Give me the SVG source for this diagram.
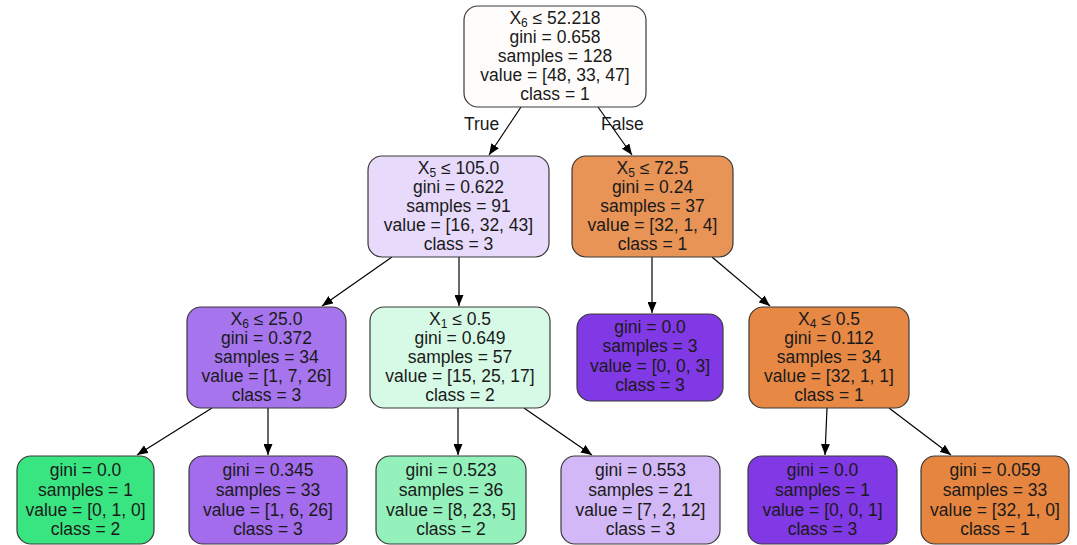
<svg xmlns="http://www.w3.org/2000/svg" width="1077" height="545" viewBox="0 0 1077 545">
<defs>
<style>
.box{stroke:#3a3a3a;stroke-width:1.2}
text{font-family:"Liberation Sans",Arial,sans-serif;font-size:17.5px;fill:#1a1a1a;text-anchor:middle}
.sub{font-size:12px}
.edge{stroke:#000;stroke-width:1.2;fill:none}
.lbl{text-anchor:start}
</style>
<marker id="arr" markerWidth="11" markerHeight="9" refX="11" refY="4.5" orient="auto" markerUnits="userSpaceOnUse">
<path d="M0,0 L11,4.5 L0,9 Z" fill="#000"/>
</marker>
</defs>
<rect width="1077" height="545" fill="#fff"/>
<g id="connectors">
<line class="edge" x1="521" y1="107" x2="489" y2="155" marker-end="url(#arr)"/>
<line class="edge" x1="598" y1="107" x2="632" y2="155" marker-end="url(#arr)"/>
<line class="edge" x1="392" y1="257" x2="322" y2="306" marker-end="url(#arr)"/>
<line class="edge" x1="459" y1="257" x2="459" y2="306" marker-end="url(#arr)"/>
<line class="edge" x1="652" y1="257" x2="652" y2="313" marker-end="url(#arr)"/>
<line class="edge" x1="712" y1="257" x2="770" y2="306" marker-end="url(#arr)"/>
<line class="edge" x1="212" y1="408" x2="137" y2="455" marker-end="url(#arr)"/>
<line class="edge" x1="268" y1="408" x2="268" y2="455" marker-end="url(#arr)"/>
<line class="edge" x1="458" y1="408" x2="458" y2="455" marker-end="url(#arr)"/>
<line class="edge" x1="524" y1="408" x2="592" y2="455" marker-end="url(#arr)"/>
<line class="edge" x1="827" y1="408" x2="825" y2="455" marker-end="url(#arr)"/>
<line class="edge" x1="889" y1="408" x2="951" y2="455" marker-end="url(#arr)"/>
<text class="lbl" x="464" y="130">True</text>
<text class="lbl" x="601" y="130">False</text>
</g>
<g id="root">
<rect class="box" x="464" y="6" width="182" height="101" rx="14" fill="#fffdfc"/>
<text x="555" y="24">X<tspan class="sub" dy="3">6</tspan><tspan dy="-3"> ≤ 52.218</tspan></text>
<text x="555" y="43">gini = 0.658</text>
<text x="555" y="62">samples = 128</text>
<text x="555" y="81">value = [48, 33, 47]</text>
<text x="555" y="100">class = 1</text>
</g>
<g id="n1">
<rect class="box" x="368" y="156" width="181" height="101" rx="14" fill="#e8dafa"/>
<text x="458.5" y="174">X<tspan class="sub" dy="3">5</tspan><tspan dy="-3"> ≤ 105.0</tspan></text>
<text x="458.5" y="193">gini = 0.622</text>
<text x="458.5" y="212">samples = 91</text>
<text x="458.5" y="231">value = [16, 32, 43]</text>
<text x="458.5" y="250">class = 3</text>
</g>
<g id="n2">
<rect class="box" x="572" y="156" width="161" height="101" rx="14" fill="#e99457"/>
<text x="652.5" y="174">X<tspan class="sub" dy="3">5</tspan><tspan dy="-3"> ≤ 72.5</tspan></text>
<text x="652.5" y="193">gini = 0.24</text>
<text x="652.5" y="212">samples = 37</text>
<text x="652.5" y="231">value = [32, 1, 4]</text>
<text x="652.5" y="250">class = 1</text>
</g>
<g id="n3">
<rect class="box" x="187" y="307" width="159" height="101" rx="14" fill="#a674ed"/>
<text x="266.5" y="325">X<tspan class="sub" dy="3">6</tspan><tspan dy="-3"> ≤ 25.0</tspan></text>
<text x="266.5" y="344">gini = 0.372</text>
<text x="266.5" y="363">samples = 34</text>
<text x="266.5" y="382">value = [1, 7, 26]</text>
<text x="266.5" y="401">class = 3</text>
</g>
<g id="n4">
<rect class="box" x="370" y="307" width="180" height="101" rx="14" fill="#d7fae6"/>
<text x="460" y="325">X<tspan class="sub" dy="3">1</tspan><tspan dy="-3"> ≤ 0.5</tspan></text>
<text x="460" y="344">gini = 0.649</text>
<text x="460" y="363">samples = 57</text>
<text x="460" y="382">value = [15, 25, 17]</text>
<text x="460" y="401">class = 2</text>
</g>
<g id="n5">
<rect class="box" x="577" y="314" width="146" height="87" rx="14" fill="#8139e5"/>
<text x="650" y="333">gini = 0.0</text>
<text x="650" y="352">samples = 3</text>
<text x="650" y="372">value = [0, 0, 3]</text>
<text x="650" y="391">class = 3</text>
</g>
<g id="n6">
<rect class="box" x="749" y="307" width="160" height="101" rx="14" fill="#e78945"/>
<text x="829" y="325">X<tspan class="sub" dy="3">4</tspan><tspan dy="-3"> ≤ 0.5</tspan></text>
<text x="829" y="344">gini = 0.112</text>
<text x="829" y="363">samples = 34</text>
<text x="829" y="382">value = [32, 1, 1]</text>
<text x="829" y="401">class = 1</text>
</g>
<g id="l1">
<rect class="box" x="17" y="456" width="137" height="88" rx="14" fill="#39e581"/>
<text x="85.5" y="476">gini = 0.0</text>
<text x="85.5" y="496">samples = 1</text>
<text x="85.5" y="516">value = [0, 1, 0]</text>
<text x="85.5" y="535">class = 2</text>
</g>
<g id="l2">
<rect class="box" x="189" y="456" width="158" height="88" rx="14" fill="#a26cec"/>
<text x="268" y="476">gini = 0.345</text>
<text x="268" y="496">samples = 33</text>
<text x="268" y="516">value = [1, 6, 26]</text>
<text x="268" y="535">class = 3</text>
</g>
<g id="l3">
<rect class="box" x="376" y="456" width="150" height="88" rx="14" fill="#95f1bb"/>
<text x="451" y="476">gini = 0.523</text>
<text x="451" y="496">samples = 36</text>
<text x="451" y="516">value = [8, 23, 5]</text>
<text x="451" y="535">class = 2</text>
</g>
<g id="l4">
<rect class="box" x="561" y="456" width="159" height="88" rx="14" fill="#d2b8f6"/>
<text x="640.5" y="476">gini = 0.553</text>
<text x="640.5" y="496">samples = 21</text>
<text x="640.5" y="516">value = [7, 2, 12]</text>
<text x="640.5" y="535">class = 3</text>
</g>
<g id="l5">
<rect class="box" x="748" y="456" width="149" height="88" rx="14" fill="#8139e5"/>
<text x="822.5" y="476">gini = 0.0</text>
<text x="822.5" y="496">samples = 1</text>
<text x="822.5" y="516">value = [0, 0, 1]</text>
<text x="822.5" y="535">class = 3</text>
</g>
<g id="l6">
<rect class="box" x="921" y="456" width="148" height="88" rx="14" fill="#e6853f"/>
<text x="995" y="476">gini = 0.059</text>
<text x="995" y="496">samples = 33</text>
<text x="995" y="516">value = [32, 1, 0]</text>
<text x="995" y="535">class = 1</text>
</g>
</svg>
